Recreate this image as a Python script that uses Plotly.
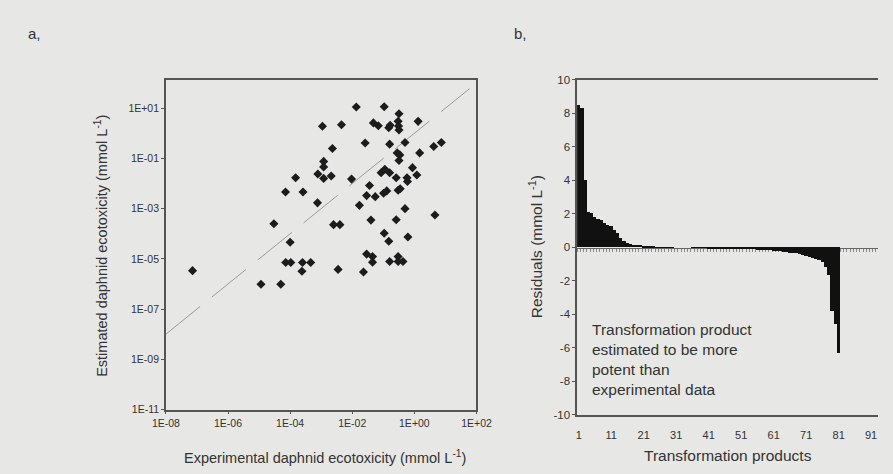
import plotly.graph_objects as go

W, H = 893, 474

# ---- Panel a: experimental vs. estimated daphnid ecotoxicity (mmol/L) ----
experimental = [
    1.1e-3, 4.5e-3, 2.3e-3, 1.2e-3, 1.2e-3, 7.8e-4, 1.2e-3, 2.1e-3, 9.5e-3, 1.5e-4,
    7.1e-5, 2.6e-4, 7.6e-4, 3.0e-5, 2.5e-3, 4.0e-3, 1.0e-4, 1.35e-2, 0.107, 0.32,
    4.8e-2, 6.9e-2, 0.15, 0.166, 0.30, 0.31, 0.32, 1.32, 2.6e-2, 0.16,
    0.50, 0.28, 0.34, 0.32, 1.48, 4.2, 7.4, 8.5e-2, 0.112, 0.16,
    0.26, 0.58, 0.60, 0.87, 1.2, 3.6e-2, 2.9e-2, 5.5e-2, 0.102, 0.129,
    0.30, 0.35, 1.7e-2, 0.50, 4.6, 4.0e-2, 0.26, 0.107, 0.15, 0.62,
    2.9e-2, 4.5e-2, 0.30, 4.5e-2, 0.16, 0.30, 0.43, 2.5e-4, 4.6e-4, 2.4e-4,
    3.5e-3, 2.3e-2, 7.2e-8, 7.2e-5, 1.05e-4, 1.15e-5, 5.0e-5,
]
estimated = [
    1.9, 2.2, 0.25, 7.6e-2, 4.6e-2, 2.4e-2, 1.6e-2, 2.0e-2, 1.5e-2, 1.7e-2,
    4.6e-3, 4.6e-3, 1.7e-3, 2.5e-4, 2.3e-4, 2.3e-4, 4.6e-5, 11.2, 11.5, 6.0,
    2.6, 2.0, 1.66, 2.1, 3.0, 1.95, 1.35, 3.0, 0.41, 0.37,
    0.43, 0.166, 0.138, 8.3e-2, 0.166, 0.30, 0.43, 2.7e-2, 3.7e-2, 2.7e-2,
    1.7e-2, 1.7e-2, 1.2e-2, 4.3e-2, 2.2e-2, 8.3e-3, 3.3e-3, 3.0e-3, 4.1e-3, 5.1e-3,
    5.4e-3, 6.2e-3, 1.35e-3, 1.0e-3, 5.6e-4, 3.5e-4, 3.6e-4, 1.05e-4, 5.0e-5, 7.4e-5,
    1.55e-5, 1.23e-5, 1.23e-5, 7.4e-6, 7.8e-6, 7.8e-6, 7.8e-6, 7.2e-6, 7.2e-6, 3.2e-6,
    3.8e-6, 3.0e-6, 3.4e-6, 7.2e-6, 7.2e-6, 9.8e-7, 9.8e-7,
]
# 1:1 reference line
unity_line = [1e-8, 60]

log_x_ticks = [1e-8, 1e-6, 1e-4, 1e-2, 1e0, 1e2]
log_x_labels = ["1E-08", "1E-06", "1E-04", "1E-02", "1E+00", "1E+02"]
log_y_ticks = [1e-11, 1e-9, 1e-7, 1e-5, 1e-3, 1e-1, 1e1]
log_y_labels = ["1E-11", "1E-09", "1E-07", "1E-05", "1E-03", "1E-01", "1E+01"]

# ---- Panel b: residuals of the transformation products (mmol/L) ----
residuals = [
    8.5, 8.35, 4.05, 2.12, 2.05, 1.84, 1.69, 1.61, 1.49, 1.36,
    1.26, 1.07, 0.87, 0.58, 0.39, 0.29, 0.19, 0.15, 0.14, 0.12,
    0.10, 0.10, 0.10, 0.08, 0.02, 0.02, 0.01, 0.01, 0.01, 0.01,
    0.0, 0.0, 0.0, 0.0, 0.0, -0.01, -0.01, -0.01, -0.02, -0.02,
    -0.06, -0.06, -0.07, -0.07, -0.07, -0.08, -0.08, -0.08, -0.09, -0.09,
    -0.09, -0.10, -0.10, -0.11, -0.12, -0.13, -0.14, -0.15, -0.16, -0.18,
    -0.20, -0.22, -0.24, -0.26, -0.28, -0.31, -0.33, -0.36, -0.40, -0.45,
    -0.50, -0.56, -0.62, -0.70, -0.76, -0.87, -1.16, -1.65, -3.8, -4.6,
    -6.3,
]
products = list(range(1, len(residuals) + 1))
product_ticks = [1, 11, 21, 31, 41, 51, 61, 71, 81, 91]
residual_ticks = [-10, -8, -6, -4, -2, 0, 2, 4, 6, 8, 10]

FONT = "Liberation Sans, Arial, sans-serif"
TXT = "#333333"
LINE = "#555555"
BG = "#e7e7e5"


def px(x):
    return x / W


def py(y):
    return 1 - y / H


fig = go.Figure()

fig.add_trace(go.Scatter(
    x=unity_line, y=unity_line, mode="lines",
    line=dict(color="#9a9a9a", width=1, dash="44px,15px"),
    xaxis="x", yaxis="y", hoverinfo="skip", showlegend=False,
))
fig.add_trace(go.Scatter(
    x=experimental, y=estimated, mode="markers",
    marker=dict(symbol="diamond", size=7, color="#1c1c1c"),
    xaxis="x", yaxis="y", showlegend=False,
))

fig.add_trace(go.Bar(
    x=products, y=residuals, marker=dict(color="#111111", line=dict(width=0)),
    xaxis="x2", yaxis="y2", showlegend=False,
))
# carrier for the category axis drawn through zero
fig.add_trace(go.Scatter(
    x=[1], y=[0], mode="markers", marker=dict(opacity=0),
    xaxis="x3", yaxis="y2", hoverinfo="skip", showlegend=False,
))

a_dom_x = [px(157), px(478)]
a_dom_y = [py(414), py(76)]
b_dom_x = [px(582), 1.0]
b_dom_y = [py(419.3), py(75.7)]
bar_w = 3.358
b_range = [0.5, 0.5 + (W - 582) / bar_w]
zero_pos = py(248.3)

tickfont = dict(family=FONT, size=10.5, color=TXT)

fig.update_layout(
    width=W, height=H,
    margin=dict(l=0, r=0, t=0, b=0),
    paper_bgcolor=BG, plot_bgcolor=BG,
    bargap=0,
    xaxis=dict(
        domain=a_dom_x, anchor="y", type="log", range=[-8, 2],
        tickvals=log_x_ticks, ticktext=log_x_labels,
        ticks="outside", ticklen=3, tickcolor=LINE,
        showline=True, linecolor=LINE, linewidth=1.5, mirror=True,
        showgrid=False, zeroline=False, tickfont=tickfont,
    ),
    yaxis=dict(
        domain=a_dom_y, anchor="x", type="log", range=[-11, 2.12],
        tickvals=log_y_ticks, ticktext=log_y_labels,
        ticks="outside", ticklen=3, tickcolor=LINE,
        showline=True, linecolor=LINE, linewidth=1.5, mirror=True,
        showgrid=False, zeroline=False, tickfont=tickfont,
    ),
    xaxis2=dict(
        domain=b_dom_x, anchor="y2", range=b_range,
        tickvals=product_ticks, ticktext=[str(t) for t in product_ticks],
        ticks="outside", ticklen=9, tickcolor="rgba(0,0,0,0)",
        showline=True, linecolor=LINE, linewidth=1.5, mirror=True,
        showgrid=False, zeroline=False, tickfont=dict(family=FONT, size=11, color=TXT),
    ),
    xaxis3=dict(
        overlaying="x2", matches="x2", anchor="free", position=zero_pos,
        side="bottom", layer="below traces",
        tick0=0.5, dtick=1, ticks="outside", ticklen=3, tickwidth=1,
        tickcolor="#8a8a8a", showticklabels=False,
        showline=True, linecolor="#666666", linewidth=1,
        showgrid=False, zeroline=False,
    ),
    yaxis2=dict(
        domain=b_dom_y, anchor="x2", range=[-10, 10],
        tickvals=residual_ticks, ticktext=[str(t) for t in residual_ticks],
        ticks="outside", ticklen=3, tickcolor=LINE,
        showline=True, linecolor=LINE, linewidth=1.5, mirror=False,
        showgrid=False, zeroline=False, tickfont=dict(family=FONT, size=11.5, color=TXT),
    ),
)

title_font = dict(family=FONT, size=14.5, color=TXT)
annotations = [
    dict(text="a,", x=px(12), y=py(28), xanchor="left", yanchor="middle",
         font=dict(family=FONT, size=15, color=TXT)),
    dict(text="b,", x=px(515), y=py(28), xanchor="left", yanchor="middle",
         font=dict(family=FONT, size=15, color=TXT)),
    dict(text="Estimated daphnid ecotoxicity (mmol L<sup>-1</sup>)",
         x=px(90), y=py(246), textangle=-90, xanchor="center", yanchor="middle",
         font=title_font),
    dict(text="Experimental daphnid ecotoxicity (mmol L<sup>-1</sup>)",
         x=px(321), y=py(463), xanchor="center", yanchor="middle",
         font=title_font),
    dict(text="Residuals (mmol L<sup>-1</sup>)",
         x=px(539), y=py(247), textangle=-90, xanchor="center", yanchor="middle",
         font=dict(family=FONT, size=15.5, color=TXT)),
    dict(text="Transformation products",
         x=px(738), y=py(461), xanchor="center", yanchor="middle",
         font=dict(family=FONT, size=15.5, color=TXT)),
    dict(text="Transformation product<br>estimated to be more<br>potent than<br>experimental data",
         x=px(595), y=py(363), xanchor="left", yanchor="middle", align="left",
         font=dict(family=FONT, size=15.5, color=TXT)),
]
for a in annotations:
    a.update(xref="paper", yref="paper", showarrow=False)
fig.update_layout(annotations=annotations)

fig.write_html("out.html")
